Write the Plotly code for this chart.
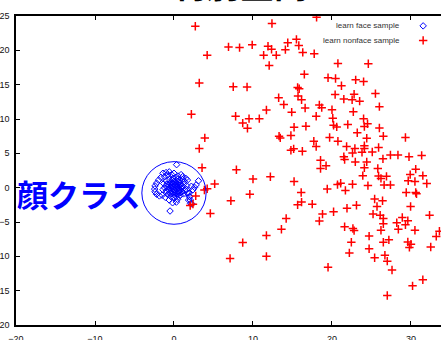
import plotly.graph_objects as go

# ---- data -------------------------------------------------------------
# learn face sample (projected into the discriminant space)
face_x = [0.33, -0.5, 3.1, 2.8, 2.6, 1.9, 2.0, 1.85, 2.1, 2.4, 2.2,
          1.72, 1.94, 2.07, 2.27,
          -1.65, -1.95, -2.2, -2.4, -2.45, -2.4, -2.2, -1.85, -1.5,
          -1.4, -1.0, -0.6, -0.8, -1.2, -0.3, 0.0, 0.9, 1.1, 1.5, 1.7, 1.3, 1.1, 0.5, 0.2,
          -1.0, -0.6, -0.2, 0.3, 0.7, -0.9, -0.5, -0.1, 0.4, 0.8, 1.2,
          -1.2, -0.8, -0.4, 0.0, 0.5, 0.9, 1.3, -1.0, -0.6, -0.2, 0.2, 0.6, 1.0, 1.4,
          -0.8, -0.4, 0.0, 0.4, 0.8, 1.2, -0.3, 0.2, 0.6, -0.7, 0.3, 0.7, -0.3, 0.1,
          -1.3, -1.4, 1.6, 1.6, 0.0, -0.5, 0.9,
          -0.4, -0.6, -0.18, 0.25, 0.46, 0.0, 0.6, -1.1, 0.3,
          -0.1, 0.15, 0.4, 0.65, -0.35, 0.05, 0.35, 0.75, 1.05, -0.15, 0.45, -0.55]
face_y = [3.35, -3.4, 1.0, 0.4, 0.05, -0.8, -1.3, -1.8, -2.3, -0.3, 0.2,
          -0.82, -1.3, -1.8, -2.37,
          1.5, 1.1, 0.65, 0.25, -0.2, -0.6, -0.95, -1.2, -1.1,
          2.1, 2.2, 2.3, 1.85, 1.6, 1.9, 2.1, 1.9, 1.6, 1.35, 1.1, 0.9, 1.2, 1.7, 1.5,
          1.0, 1.2, 1.1, 1.0, 1.1, 0.5, 0.6, 0.5, 0.6, 0.4, 0.5,
          0.0, 0.1, -0.1, 0.1, 0.0, -0.1, 0.0, -0.5, -0.4, -0.6, -0.4, -0.5, -0.6, -0.4,
          -1.0, -0.9, -1.0, -0.9, -1.1, -0.9, 0.3, 0.3, 0.3, -0.2, -0.2, 0.8, 0.8, 0.8,
          0.6, -0.3, 0.3, -0.3, -0.3, 0.3, 0.15,
          -1.3, -1.8, -2.2, -1.3, -1.7, -1.4, -1.3, -1.4, -2.1,
          0.65, 0.45, 0.15, -0.25, 0.05, -0.7, -0.6, -0.75, 0.25, 1.35, 1.25, -0.75]

# learn nonface sample
nonface_x = [2.7, 12.4, 18.05, 4.2, 6.9, 8.3, 9.9, 11.35, 11.9, 12.35, 12.95, 12.05,
             14.1, 14.4, 15.5, 15.8, 16.3, 17.75, 20.75, 24.6, 3.2, 7.5, 9.25, 16.5,
             19.5, 20.45, 23.0, 24.0, 15.65, 15.85, 21.2, 13.25, 15.7, 16.15, 13.9,
             20.4, 21.5, 22.55, 22.8, 23.5, 25.5, 18.4, 18.7, 16.6, 26.0, 11.7, 14.9,
             20.0, 22.7, 2.2, 7.8, 18.0, 20.1, 9.5, 10.8, 24.0, 8.7, 24.5, 20.2, 20.6,
             22.0, 24.1, 26.0, 9.3, 15.2, 16.7, 23.2, 13.3, 13.45, 14.8, 3.9, 19.7,
             24.4, 26.5, 29.3, 17.7, 20.75, 18.0, 3.2, 14.8, 15.15, 16.25, 21.85, 22.9,
             24.1, 24.1, 25.9, 22.6, 23.8, 25.1, 26.45, 27.4, 28.35, 29.75, 31.35,
             18.55, 19.25, 21.5, 21.6, 22.95, 24.4, 3.55, 7.9, 30.6, 24.1, 25.8, 18.55,
             10.0, 12.2, 15.2, 5.15, 3.85, 4.2, 2.75, 9.6, 7.2, 16.1, 19.4, 20.7, 21.1,
             21.7, 22.6, 24.55, 23.9, 25.9, 26.9, 26.2, 26.6, 27.4, 29.65, 29.9, 30.5,
             31.5, 32.0, 29.4, 30.6, 30.7, 25.4, 26.4, 25.7, 23.1, 21.9, 20.2, 18.8,
             18.4, 17.5, 16.15, 15.65, 14.2, 13.6, 11.7, 8.7, 7.1, 11.7, 19.5, 21.6,
             22.65, 22.8, 22.45, 22.2, 24.7, 24.7, 25.4, 25.2, 26.1, 26.5, 26.5, 26.2,
             26.5, 27.2, 26.7, 27.0, 27.6, 28.2, 28.4, 28.9, 29.3, 29.6, 29.95, 30.5,
             29.6, 30.0, 29.8, 32.35, 32.5, 33.2, 33.6, 30.2, 31.5, 27.0, 4.6, 2.05, 2.4]
nonface_y = [23.5, 23.9, 24.8, 19.3, 20.5, 20.4, 20.8, 19.3, 20.6, 20.15, 19.3, 17.8,
             20.1, 21.1, 21.6, 20.7, 19.7, 19.5, 18.1, 18.05, 15.25, 14.7, 14.65, 16.5,
             16.0, 15.9, 15.7, 15.45, 14.6, 14.4, 14.85, 13.1, 13.35, 12.8, 12.1,
             13.55, 12.9, 12.8, 13.6, 12.6, 13.7, 12.05, 11.65, 11.6, 11.8, 11.3, 11.0,
             11.35, 11.05, 10.7, 10.4, 10.4, 10.1, 10.05, 10.05, 10.05, 9.4, 9.3, 9.1, 8.85,
             9.2, 8.9, 8.7, 8.65, 8.8, 8.95, 8.0, 7.5, 7.25, 7.6, 7.25, 7.3,
             7.2, 7.5, 7.3, 6.75, 6.75, 6.0, 5.7, 5.45, 5.65, 5.3, 6.0, 5.7,
             6.1, 5.7, 5.85, 5.05, 5.15, 5.2, 4.2, 4.75, 4.75, 4.5, 4.7,
             4.0, 3.2, 4.5, 4.1, 3.75, 3.75, 2.9, 2.6, 2.7, 2.9, 2.8, 2.8,
             1.25, 1.6, 0.9, 0.55, -0.33, -0.15, -1.2, -0.95, -1.9, -0.7, -0.2, 0.45, 0.65,
             -0.4, 0.5, 0.3, 1.75, 1.7, 1.65, 1.35, 0.4, 0.4, 1.0, 1.9, 0.9,
             1.75, 0.6, -0.7, -0.7, -0.9, -1.65, -1.9, -2.75, -2.55, -3.0, -3.5, -3.85,
             -4.85, -2.4, -2.1, -2.5, -4.5, -6.05, -6.95, -8.0, -10.3, -10.0, -11.6, -5.7,
             -5.95, -6.25, -7.95, -9.5, -7.05, -8.9, -10.2, -3.85, -4.0, -4.5, -5.25, -6.2,
             -7.95, -7.6, -9.85, -10.7, -12.0, -5.1, -6.05, -4.35, -5.4, -4.8, -2.75, -6.2,
             -7.9, -8.25, -8.7, -4.0, -8.65, -7.1, -6.35, -14.3, -13.4, -15.7, -3.75, -2.6, -2.4]

# ellipse drawn round the face class (data units)
face_circle_cx, face_circle_cy = 0.0, -0.77
face_circle_rx, face_circle_ry = 4.07, 4.56

x_ticks = [-20, -10, 0, 10, 20, 30]
y_ticks = [25, 20, 15, 10, 5, 0, -5, -10, -15, -20]
series_names = ["learn face sample", "learn nonface sample"]

BLUE = "#0000ff"
RED = "#ff0000"
TICK_FONT = dict(family="Liberation Sans, Arial, sans-serif", size=9, color="#111")
JP_FONT = "Noto Sans CJK JP"

face_marker = dict(symbol="diamond-open", size=5, color=BLUE, line=dict(width=1, color=BLUE))
nonface_marker = dict(symbol="cross-thin", size=6, color=RED, line=dict(width=1.5, color=RED))

fig = go.Figure()

fig.add_trace(go.Scatter(
    x=face_x, y=face_y, mode="markers", name=series_names[0], showlegend=False,
    marker=face_marker,
))
fig.add_trace(go.Scatter(
    x=nonface_x, y=nonface_y, mode="markers", name=series_names[1], showlegend=False,
    marker=nonface_marker,
))

# key symbols placed on an overlay axis pair spanning [0, 1]
key_x = 0.958
key_rows = [0.968, 0.921]
fig.add_trace(go.Scatter(
    x=[key_x], y=[key_rows[0]], xaxis="x2", yaxis="y2", mode="markers", showlegend=False,
    marker=face_marker, hoverinfo="skip",
))
fig.add_trace(go.Scatter(
    x=[key_x], y=[key_rows[1]], xaxis="x2", yaxis="y2", mode="markers", showlegend=False,
    marker=nonface_marker, hoverinfo="skip",
))

KEY_FONT = dict(family="Liberation Sans, Arial, sans-serif", size=8, color="#333")
annotations = [
    dict(text=series_names[0], xref="x2", yref="y2", x=0.908, y=key_rows[0],
         xanchor="right", yanchor="middle", showarrow=False, font=KEY_FONT),
    dict(text=series_names[1], xref="x2", yref="y2", x=0.908, y=key_rows[1],
         xanchor="right", yanchor="middle", showarrow=False, font=KEY_FONT),
    dict(text="<b>判別空間</b>", xref="paper", yref="paper", x=0.527, y=1.0,
         xanchor="center", yanchor="bottom", yshift=6, showarrow=False,
         font=dict(family=JP_FONT, size=34, color="#000")),
    dict(text="<b>顔クラス</b>", xref="paper", yref="paper", x=0.146, y=0.427,
         xanchor="center", yanchor="middle", showarrow=False,
         font=dict(family=JP_FONT, size=31, color=BLUE)),
]

fig.add_shape(
    type="circle", xref="x", yref="y",
    x0=face_circle_cx - face_circle_rx, x1=face_circle_cx + face_circle_rx,
    y0=face_circle_cy - face_circle_ry, y1=face_circle_cy + face_circle_ry,
    line=dict(color=BLUE, width=1),
)

fig.update_layout(
    width=441, height=340,
    margin=dict(l=16, r=0, t=16, b=15),
    paper_bgcolor="white", plot_bgcolor="white",
    annotations=annotations,
    xaxis=dict(range=[-20, 33.8], tickvals=x_ticks, ticks="inside", ticklen=4,
               tickwidth=1, tickcolor="#000", showline=True, linecolor="#000",
               linewidth=1.5, mirror="ticks", showgrid=False, zeroline=False,
               tickfont=TICK_FONT, ticklabelstandoff=4, automargin=False),
    yaxis=dict(range=[-20, 25], tickvals=y_ticks, ticks="inside", ticklen=4,
               tickwidth=1, tickcolor="#000", showline=True, linecolor="#000",
               linewidth=1.5, mirror=False, showgrid=False, zeroline=False,
               tickfont=TICK_FONT, ticklabelstandoff=3, automargin=False),
    xaxis2=dict(overlaying="x", range=[0, 1], visible=False),
    yaxis2=dict(overlaying="y", range=[0, 1], visible=False),
)

fig.write_html("out.html")
